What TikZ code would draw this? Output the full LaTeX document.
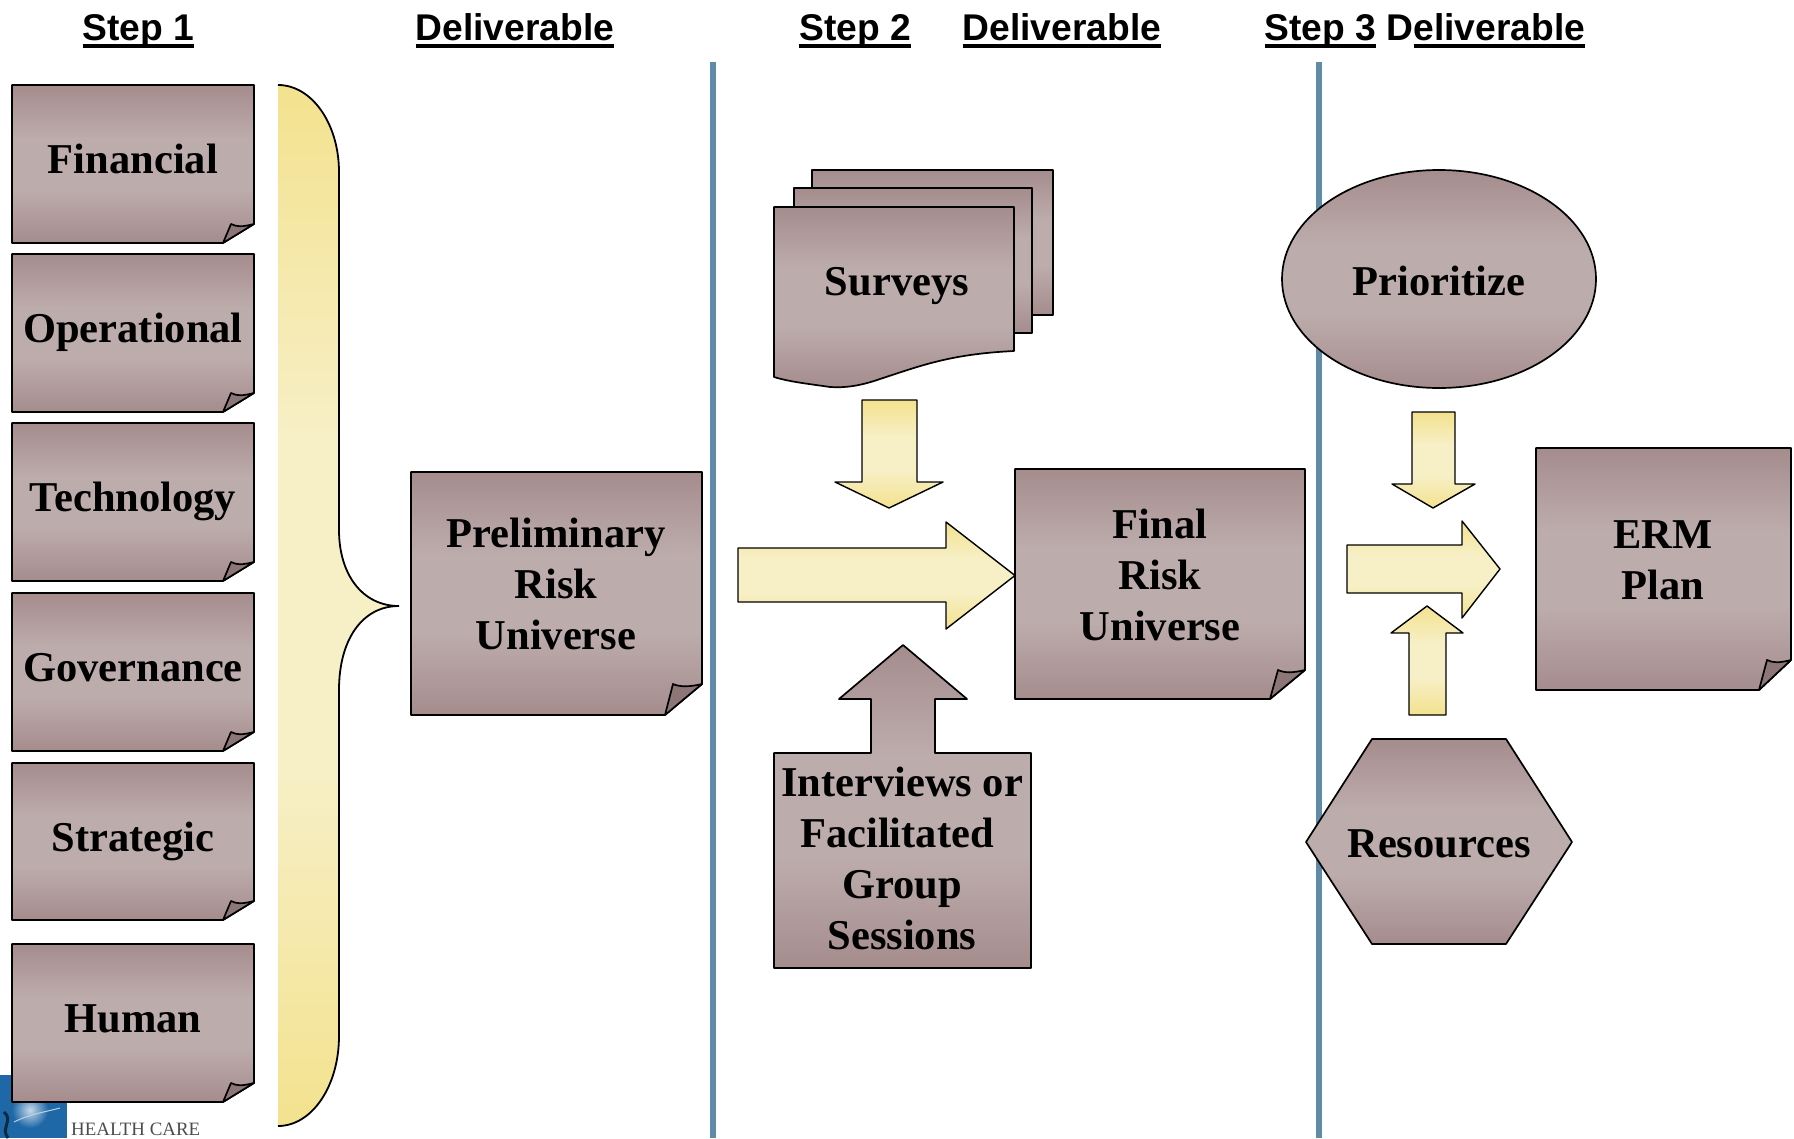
\documentclass[tikz,border=0pt]{standalone}
\usepackage{fontspec}
\setmainfont{Liberation Serif}
\newfontfamily\headfont{Liberation Sans}
\usetikzlibrary{shapes.geometric}
\definecolor{mauvedk}{HTML}{A58C8D}
\definecolor{mauvelt}{HTML}{BDACAC}
\definecolor{flapdk}{HTML}{8C7677}
\definecolor{yellowdk}{HTML}{F3E28E}
\definecolor{yellowlt}{HTML}{F7EFC6}
\definecolor{rulecol}{HTML}{5F8AA8}
\definecolor{logoblue}{HTML}{1F68A8}
\pgfdeclareverticalshading{mauveshade}{100bp}{color(0bp)=(mauvedk); color(25bp)=(mauvedk); color(42bp)=(mauvelt); color(58bp)=(mauvelt); color(75bp)=(mauvedk); color(100bp)=(mauvedk)}
\pgfdeclareverticalshading{yellowshade}{100bp}{color(0bp)=(yellowdk); color(25bp)=(yellowdk); color(42bp)=(yellowlt); color(58bp)=(yellowlt); color(75bp)=(yellowdk); color(100bp)=(yellowdk)}
\newcommand{\ulhead}[1]{\vtop{\hbox{\smash{#1}}\kern4pt\hrule height 3.5pt}}
\newcommand{\notebox}[6]{%
  \draw[mauve] (#1,#2) -- (#3,#2) -- (#3,{#4-#6}) -- ({#3-#5},#4) -- (#1,#4) -- cycle;
  \draw[flap] ({#3-#5},#4) -- ({#3-#5+8},{#4-#6}) .. controls ({#3-#5+14},{#4-#6+3}) and ({#3-12},{#4-#6+3}) .. (#3,{#4-#6}) -- cycle;
}
\tikzset{
  mauve/.style={draw, line width=1.7pt, line join=round, shading=mauveshade},
  flap/.style={draw, line width=1.7pt, line join=round, fill=flapdk},
  yarrow/.style={draw, line width=1.4pt, line join=round, shading=yellowshade},
  label/.style={anchor=base, align=center, inner sep=0pt, font=\fontsize{42.5}{51}\selectfont\bfseries},
  head/.style={anchor=base, inner sep=0pt, font=\fontsize{37.2}{44}\selectfont\headfont\bfseries}
}

\begin{document}
\begin{tikzpicture}[x=1pt,y=-1pt]
  \useasboundingbox (0,0) rectangle (1794,1138);

  \node[head] (h1) at (138.5,40) {\ulhead{Step 1}};
  \node[head] (h2) at (515,40) {\ulhead{Deliverable}};
  \node[head] (h3) at (855,40) {\ulhead{Step 2}};
  \node[head] (h4) at (1062,40) {\ulhead{Deliverable}};
  \node[head] (h5) at (1320.5,40) {\ulhead{Step 3}};
  \node[head, anchor=base west] (h6) at (1386.5,40) {D\ulhead{eliverable}};

  \coordinate (rule1top) at (713,62);
  \coordinate (rule1bot) at (713,1138);
  \coordinate (rule2top) at (1319,62);
  \coordinate (rule2bot) at (1319,1138);
  \draw[rulecol, line width=6pt] (rule1top) -- (rule1bot);
  \draw[rulecol, line width=6pt] (rule2top) -- (rule2bot);

  \fill[logoblue] (0,1075) rectangle (67,1138);
  \shade[inner color=white!75!logoblue, outer color=logoblue] (30,1110) circle (18);
  \draw[white!70!logoblue, line width=1pt] (14,1122) .. controls (30,1114) and (45,1112) .. (60,1108);
  \draw[black!60!logoblue, line width=3pt] (4,1112) .. controls (14,1120) and (0,1128) .. (8,1138);
  \node[anchor=base west, inner sep=0pt, text=black!70, font=\fontsize{18.9}{22}\selectfont] (hc) at (71,1135) {HEALTH CARE};

  \foreach \name/\ytop/\ybot/\base/\txt in {fin/85/243/173/Financial, oper/254/412/342/Operational, tech/423/581/511/Technology, gov/593/751/681/Governance, strat/763/920/851/Strategic, hum/944/1102/1032/Human} {
    \notebox{12}{\ytop}{254}{\ybot}{31}{19}
    \node[label] (\name) at (133,\base) {\txt};
  }

  \draw[yarrow, draw=none] (278,85) .. controls (312,85) and (339,124) .. (339,172) -- (339,530) .. controls (339,574) and (362,606) .. (399,606) .. controls (362,606) and (339,640) .. (339,690) -- (339,1036) .. controls (339,1086) and (312,1126) .. (278,1126) -- cycle;
  \draw[line width=1.8pt] (278,85) .. controls (312,85) and (339,124) .. (339,172) -- (339,530) .. controls (339,574) and (362,606) .. (399,606) .. controls (362,606) and (339,640) .. (339,690) -- (339,1036) .. controls (339,1086) and (312,1126) .. (278,1126);

  \notebox{411}{472}{702}{715}{37}{31}
  \node[label] (prelim) at (556,649) {Preliminary\\Risk\\Universe};

  \draw[mauve] (812,170) -- (1053,170) -- (1053,315) -- (812,315) -- cycle;
  \draw[mauve] (794,188) -- (1032,188) -- (1032,333) -- (794,333) -- cycle;
  \draw[mauve] (774,207) -- (1014,207) -- (1014,351) .. controls (950,354) and (920,366) .. (880,379) .. controls (860,386) and (845,388) .. (830,387) .. controls (810,384) and (790,382) .. (774,377) -- cycle;
  \node[label] (surveys) at (897,295) {Surveys};

  \draw[yarrow] (862,400) -- (917,400) -- (917,482) -- (943,482) -- (889,508) -- (835,482) -- (862,482) -- cycle;
  \draw[yarrow] (738,548) -- (946,548) -- (946,522) -- (1015,575.5) -- (946,629) -- (946,602) -- (738,602) -- cycle;

  \draw[mauve] (903,645) -- (967,699) -- (935,699) -- (935,753) -- (1031,753) -- (1031,968) -- (774,968) -- (774,753) -- (871,753) -- (871,699) -- (839,699) -- cycle;
  \node[label] (interv) at (902,949.5) {Interviews or\\Facilitated\rule{10pt}{0pt}\\Group\\Sessions};

  \notebox{1015}{469}{1305}{699}{35}{29}
  \node[label] (final) at (1160,640.5) {Final\\Risk\\Universe};

  \node[ellipse, mauve, minimum width=314pt, minimum height=218pt, inner sep=0pt] (prior) at (1439,279) {};
  \node[label] (priorlab) at (1439,295) {Prioritize};

  \draw[yarrow] (1412,412) -- (1455,412) -- (1455,484) -- (1475,484) -- (1433,508) -- (1392,484) -- (1412,484) -- cycle;
  \draw[yarrow] (1347,545) -- (1462,545) -- (1462,521) -- (1500,569) -- (1462,618) -- (1462,593) -- (1347,593) -- cycle;
  \draw[yarrow] (1427,606) -- (1463,633) -- (1446,633) -- (1446,715) -- (1409,715) -- (1409,633) -- (1391,633) -- cycle;

  \notebox{1536}{448}{1791}{690}{32}{30}
  \node[label] (erm) at (1663,599) {ERM\\Plan};

  \draw[mauve] (1372,739) -- (1506,739) -- (1572,842) -- (1506,944) -- (1372,944) -- (1306,842) -- cycle;
  \node[label] (res) at (1439,857) {Resources};
\end{tikzpicture}
\end{document}
